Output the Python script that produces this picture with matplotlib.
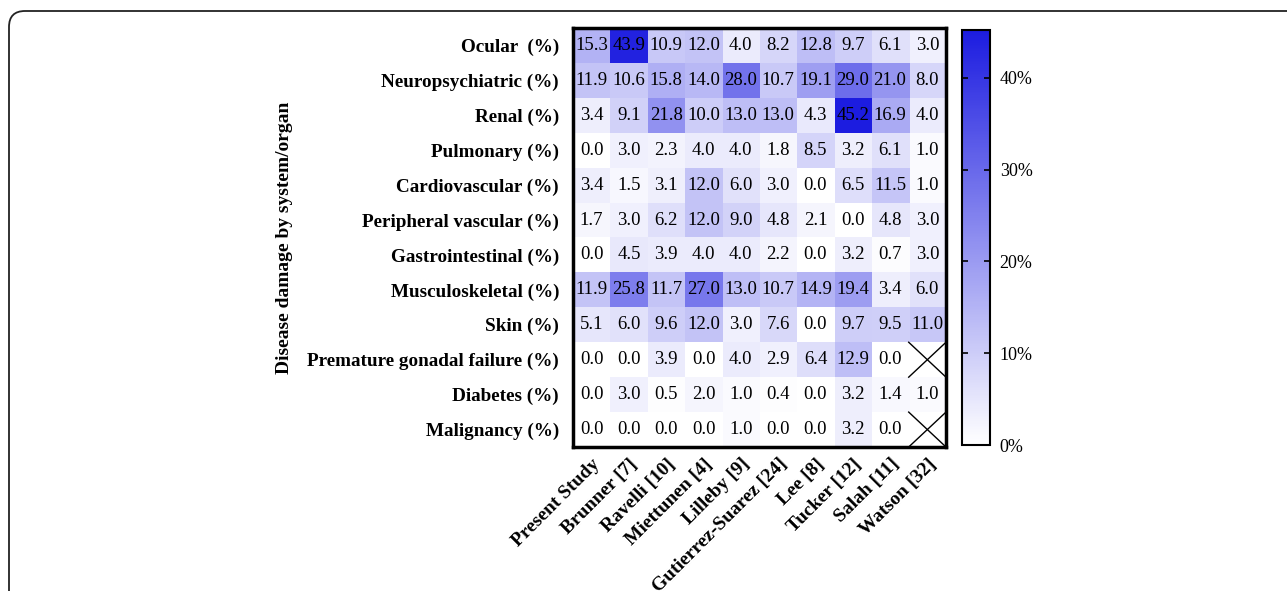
import numpy as np
import matplotlib
matplotlib.use("Agg")
import matplotlib.pyplot as plt
from matplotlib.colors import LinearSegmentedColormap
from matplotlib.patches import FancyBboxPatch

plt.rcParams['font.family'] = ['Liberation Serif', 'DejaVu Serif']

studies = ["Present Study", "Brunner [7]", "Ravelli [10]", "Miettunen [4]", "Lilleby [9]",
           "Gutierrez-Suarez [24]", "Lee [8]", "Tucker [12]", "Salah [11]", "Watson [32]"]
organs = ["Ocular  (%)", "Neuropsychiatric (%)", "Renal (%)", "Pulmonary (%)",
          "Cardiovascular (%)", "Peripheral vascular (%)", "Gastrointestinal (%)",
          "Musculoskeletal (%)", "Skin (%)", "Premature gonadal failure (%)",
          "Diabetes (%)", "Malignancy (%)"]

ocular = [15.3, 43.9, 10.9, 12.0, 4.0, 8.2, 12.8, 9.7, 6.1, 3.0]
neuro = [11.9, 10.6, 15.8, 14.0, 28.0, 10.7, 19.1, 29.0, 21.0, 8.0]
renal = [3.4, 9.1, 21.8, 10.0, 13.0, 13.0, 4.3, 45.2, 16.9, 4.0]
pulmonary = [0.0, 3.0, 2.3, 4.0, 4.0, 1.8, 8.5, 3.2, 6.1, 1.0]
cardio = [3.4, 1.5, 3.1, 12.0, 6.0, 3.0, 0.0, 6.5, 11.5, 1.0]
peripheral = [1.7, 3.0, 6.2, 12.0, 9.0, 4.8, 2.1, 0.0, 4.8, 3.0]
gastro = [0.0, 4.5, 3.9, 4.0, 4.0, 2.2, 0.0, 3.2, 0.7, 3.0]
musculo = [11.9, 25.8, 11.7, 27.0, 13.0, 10.7, 14.9, 19.4, 3.4, 6.0]
skin = [5.1, 6.0, 9.6, 12.0, 3.0, 7.6, 0.0, 9.7, 9.5, 11.0]
gonadal = [0.0, 0.0, 3.9, 0.0, 4.0, 2.9, 6.4, 12.9, 0.0, np.nan]
diabetes = [0.0, 3.0, 0.5, 2.0, 1.0, 0.4, 0.0, 3.2, 1.4, 1.0]
malignancy = [0.0, 0.0, 0.0, 0.0, 1.0, 0.0, 0.0, 3.2, 0.0, np.nan]

data = np.array([ocular, neuro, renal, pulmonary, cardio, peripheral, gastro,
                 musculo, skin, gonadal, diabetes, malignancy])

W, H = 1287, 591
fig = plt.figure(figsize=(W / 100, H / 100), dpi=100)

# rounded frame, cut off at right and bottom
frame = FancyBboxPatch((0.09, -1.0), 13.5, 5.80 + 1.0,
                       boxstyle="round,pad=0,rounding_size=0.16",
                       transform=fig.dpi_scale_trans, fill=False,
                       edgecolor='#222222', linewidth=1.3, clip_on=False)
fig.patches.append(frame)

cmap = LinearSegmentedColormap.from_list("wb", ["#ffffff", "#1c1ce0"])

ax = fig.add_axes([573 / W, 1 - 447 / H, (946 - 573) / W, (447 - 28) / H])
masked = np.ma.masked_invalid(data)
im = ax.imshow(masked, cmap=cmap, vmin=0, vmax=45.2, aspect='auto',
               interpolation='nearest')

nr, nc = data.shape
for i in range(nr):
    for j in range(nc):
        v = data[i, j]
        if np.isnan(v):
            ax.plot([j - 0.5, j + 0.5], [i + 0.5, i - 0.5], color='black', lw=1.0)
            ax.plot([j - 0.5, j + 0.5], [i - 0.5, i + 0.5], color='black', lw=1.0)
        else:
            ax.text(j, i, f"{v:.1f}", ha='center', va='center', fontsize=13.5)

ax.set_xlim(-0.5, nc - 0.5)
ax.set_ylim(nr - 0.5, -0.5)
ax.set_xticks(range(nc))
ax.set_xticklabels(studies, rotation=45, ha='right', rotation_mode='anchor',
                   fontsize=14, fontweight='bold')
ax.set_yticks(range(nr))
ax.set_yticklabels(organs, fontsize=13.8, fontweight='bold')
ax.tick_params(length=0, pad=10)
ax.tick_params(axis='x', pad=6)
for s in ax.spines.values():
    s.set_linewidth(2.5)
ax.set_ylabel("Disease damage by system/organ", fontsize=14, fontweight='bold')
ax.yaxis.set_label_coords((293 - 573) / 373, 0.5)

cax = fig.add_axes([962 / W, 1 - 445 / H, (990 - 962) / W, (445 - 30) / H])
cb = fig.colorbar(im, cax=cax)
cb.set_ticks([0, 10, 20, 30, 40])
cb.set_ticklabels(["0%", "10%", "20%", "30%", "40%"])
cax.tick_params(direction='in', length=4, width=1.2, left=True, right=True,
                labelsize=13, pad=7)
cb.outline.set_linewidth(1.5)

fig.savefig("out.png", dpi=100)
